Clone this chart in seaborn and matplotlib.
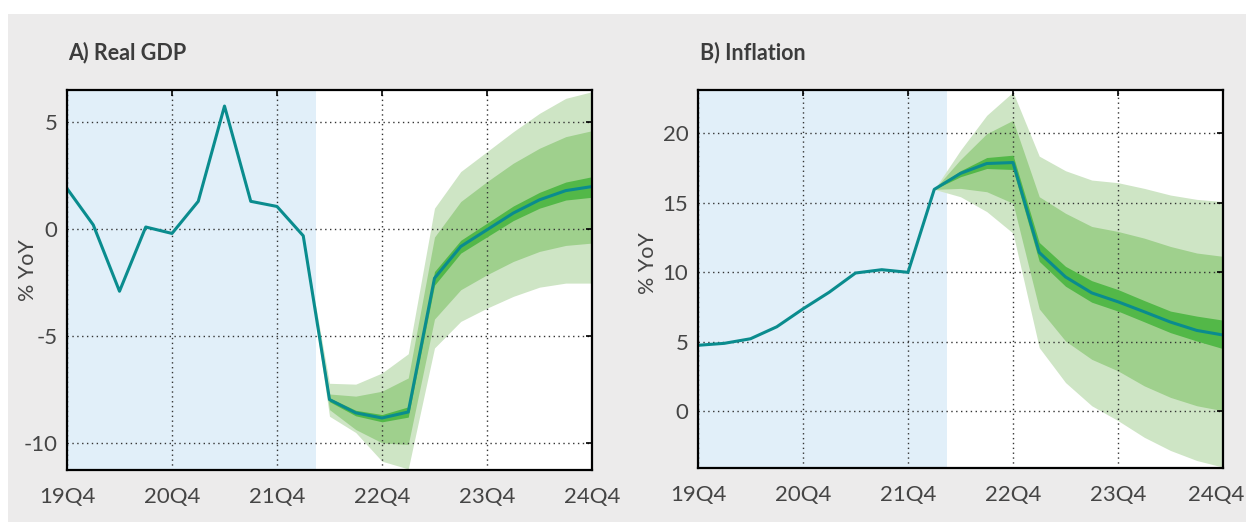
import numpy as np
import pandas as pd
import matplotlib
matplotlib.use("Agg")
import matplotlib.pyplot as plt
import matplotlib.transforms as mtransforms
import seaborn as sns
from matplotlib.patches import Rectangle

# quarters 19Q4 .. 24Q4
quarters = ["19Q4", "20Q1", "20Q2", "20Q3", "20Q4", "21Q1", "21Q2", "21Q3", "21Q4",
            "22Q1", "22Q2", "22Q3", "22Q4", "23Q1", "23Q2", "23Q3", "23Q4",
            "24Q1", "24Q2", "24Q3", "24Q4"]
tick_labels = ["19Q4", "20Q4", "21Q4", "22Q4", "23Q4", "24Q4"]
hist_end = 9.5  # shaded history ends here (index units)

# Real GDP, % YoY
gdp = [1.9, 0.2, -2.9, 0.1, -0.2, 1.3, 5.75, 1.3, 1.06, -0.31,
       -7.96, -8.58, -8.82, -8.54, -2.29, -0.81, -0.03, 0.75, 1.37, 1.8, 1.99]
# fan bands from 22Q1 (index 9) onwards
gdp_out_hi = [-0.31, -7.2, -7.24, -6.72, -5.82, 0.98, 2.69, 3.62, 4.55, 5.41, 6.11, 6.42]
gdp_out_lo = [-0.31, -8.74, -9.5, -10.84, -11.2, -5.55, -4.31, -3.69, -3.14, -2.71, -2.52, -2.52]
gdp_mid_hi = [-0.31, -7.7, -7.8, -7.57, -6.95, -0.37, 1.29, 2.22, 3.08, 3.78, 4.32, 4.6]
gdp_mid_lo = [-0.31, -8.43, -9.36, -9.98, -10.06, -4.2, -2.83, -2.13, -1.51, -1.04, -0.76, -0.65]
gdp_in_hi = [-0.31, -7.88, -8.46, -8.66, -8.3, -1.98, -0.52, 0.28, 1.08, 1.72, 2.2, 2.45]
gdp_in_lo = [-0.31, -8.06, -8.72, -9.0, -8.78, -2.62, -1.12, -0.36, 0.4, 0.98, 1.36, 1.49]

# Inflation, % YoY
infl = [4.73, 4.87, 5.2, 6.06, 7.35, 8.55, 9.93, 10.17, 9.98, 15.95,
        17.1, 17.81, 17.88, 11.41, 9.65, 8.5, 7.86, 7.14, 6.4, 5.8, 5.47]
inf_out_hi = [15.95, 18.77, 21.28, 22.95, 18.34, 17.29, 16.62, 16.43, 16.02, 15.54, 15.23, 15.07]
inf_out_lo = [15.95, 15.42, 14.35, 12.8, 4.56, 2.05, 0.38, -0.69, -1.89, -2.84, -3.56, -4.04]
inf_mid_hi = [15.95, 18.1, 19.96, 20.92, 15.42, 14.23, 13.28, 12.92, 12.44, 11.84, 11.37, 11.13]
inf_mid_lo = [15.95, 16.02, 15.78, 14.95, 7.35, 5.04, 3.72, 2.89, 1.81, 0.98, 0.38, 0.02]
inf_in_hi = [15.95, 17.29, 18.24, 18.41, 12.13, 10.41, 9.38, 8.74, 7.95, 7.19, 6.83, 6.54]
inf_in_lo = [15.95, 16.86, 17.45, 17.38, 10.77, 8.98, 7.83, 7.19, 6.42, 5.64, 5.04, 4.49]

c_line = "#0a8c8e"
c_light = "#cee5c5"
c_mid = "#9fd08d"
c_dark = "#53b848"
c_hist = "#e1eff9"
c_bg = "#ecebeb"
c_text = "#454545"

sns.set_theme(style="white")
plt.rcParams["font.family"] = ["Lato", "DejaVu Sans"]

fig = plt.figure(figsize=(12.46, 5.22), dpi=100)
fig.patches.append(Rectangle((8 / 1246, 0), 1, 1 - 14 / 522, transform=fig.transFigure,
                             facecolor=c_bg, edgecolor="none", zorder=-10))

ax1 = fig.add_axes([67 / 1246, 1 - 470 / 522, 525 / 1246, 380 / 522])
ax2 = fig.add_axes([698 / 1246, 1 - 468 / 522, 525 / 1246, 378 / 522])

panels = [
    (ax1, "A) Real GDP", gdp, [gdp_out_lo, gdp_out_hi, gdp_mid_lo, gdp_mid_hi, gdp_in_lo, gdp_in_hi],
     (-11.25, 6.5), [-10, -5, 0, 5], 68, (-0.055, 0.526)),
    (ax2, "B) Inflation", infl, [inf_out_lo, inf_out_hi, inf_mid_lo, inf_mid_hi, inf_in_lo, inf_in_hi],
     (-4.1, 23.1), [0, 5, 10, 15, 20], 700, (-0.076, 0.542)),
]

for ax, title, series, bands, ylim, yticks, tx, ylab_xy in panels:
    df = pd.DataFrame({"q": np.arange(len(quarters)), "v": series})
    fx = np.arange(9, 9 + len(bands[0]))
    ax.set_facecolor("white")
    ax.axvspan(-1, hist_end, color=c_hist, lw=0, zorder=0)
    ax.fill_between(fx, bands[0], bands[1], color=c_light, lw=0, zorder=1)
    ax.fill_between(fx, bands[2], bands[3], color=c_mid, lw=0, zorder=2)
    ax.fill_between(fx, bands[4], bands[5], color=c_dark, lw=0, zorder=3)
    sns.lineplot(data=df, x="q", y="v", ax=ax, color=c_line, lw=2.2, zorder=5)

    ax.set_xlim(0, len(quarters) - 1)
    ax.set_ylim(*ylim)
    ax.set_xticks([quarters.index(t) for t in tick_labels])
    ax.set_xticklabels(tick_labels)
    ax.set_yticks(yticks)
    ax.set_yticklabels([str(t) for t in yticks])
    ax.grid(True, linestyle=(0, (1, 2.5)), color="#333333", lw=1.0, zorder=4)
    ax.set_axisbelow(False)
    for sp in ax.spines.values():
        sp.set_color("black")
        sp.set_linewidth(1.6)
        sp.set_zorder(6)
    ax.tick_params(axis="both", direction="in", length=4, width=1.2, color="black",
                   top=True, right=True, labelsize=16, labelcolor=c_text)
    ax.tick_params(axis="x", pad=12)
    ax.tick_params(axis="y", pad=7)
    ax.set_xlabel("")
    ax.set_ylabel("% YoY", fontsize=15.5, color=c_text)
    ax.yaxis.set_label_coords(*ylab_xy)
    fig.text(tx / 1246, 1 - 53 / 522, title, fontsize=15.5, fontweight="bold",
             color="#3c3c3c", ha="left", va="center")

# last label on the right panel sits a bit left so it stays inside the figure
last = ax2.get_xticklabels()[-1]
last.set_transform(last.get_transform() + mtransforms.ScaledTranslation(-7 / 100, 0, fig.dpi_scale_trans))

fig.savefig("out.png", dpi=100)
